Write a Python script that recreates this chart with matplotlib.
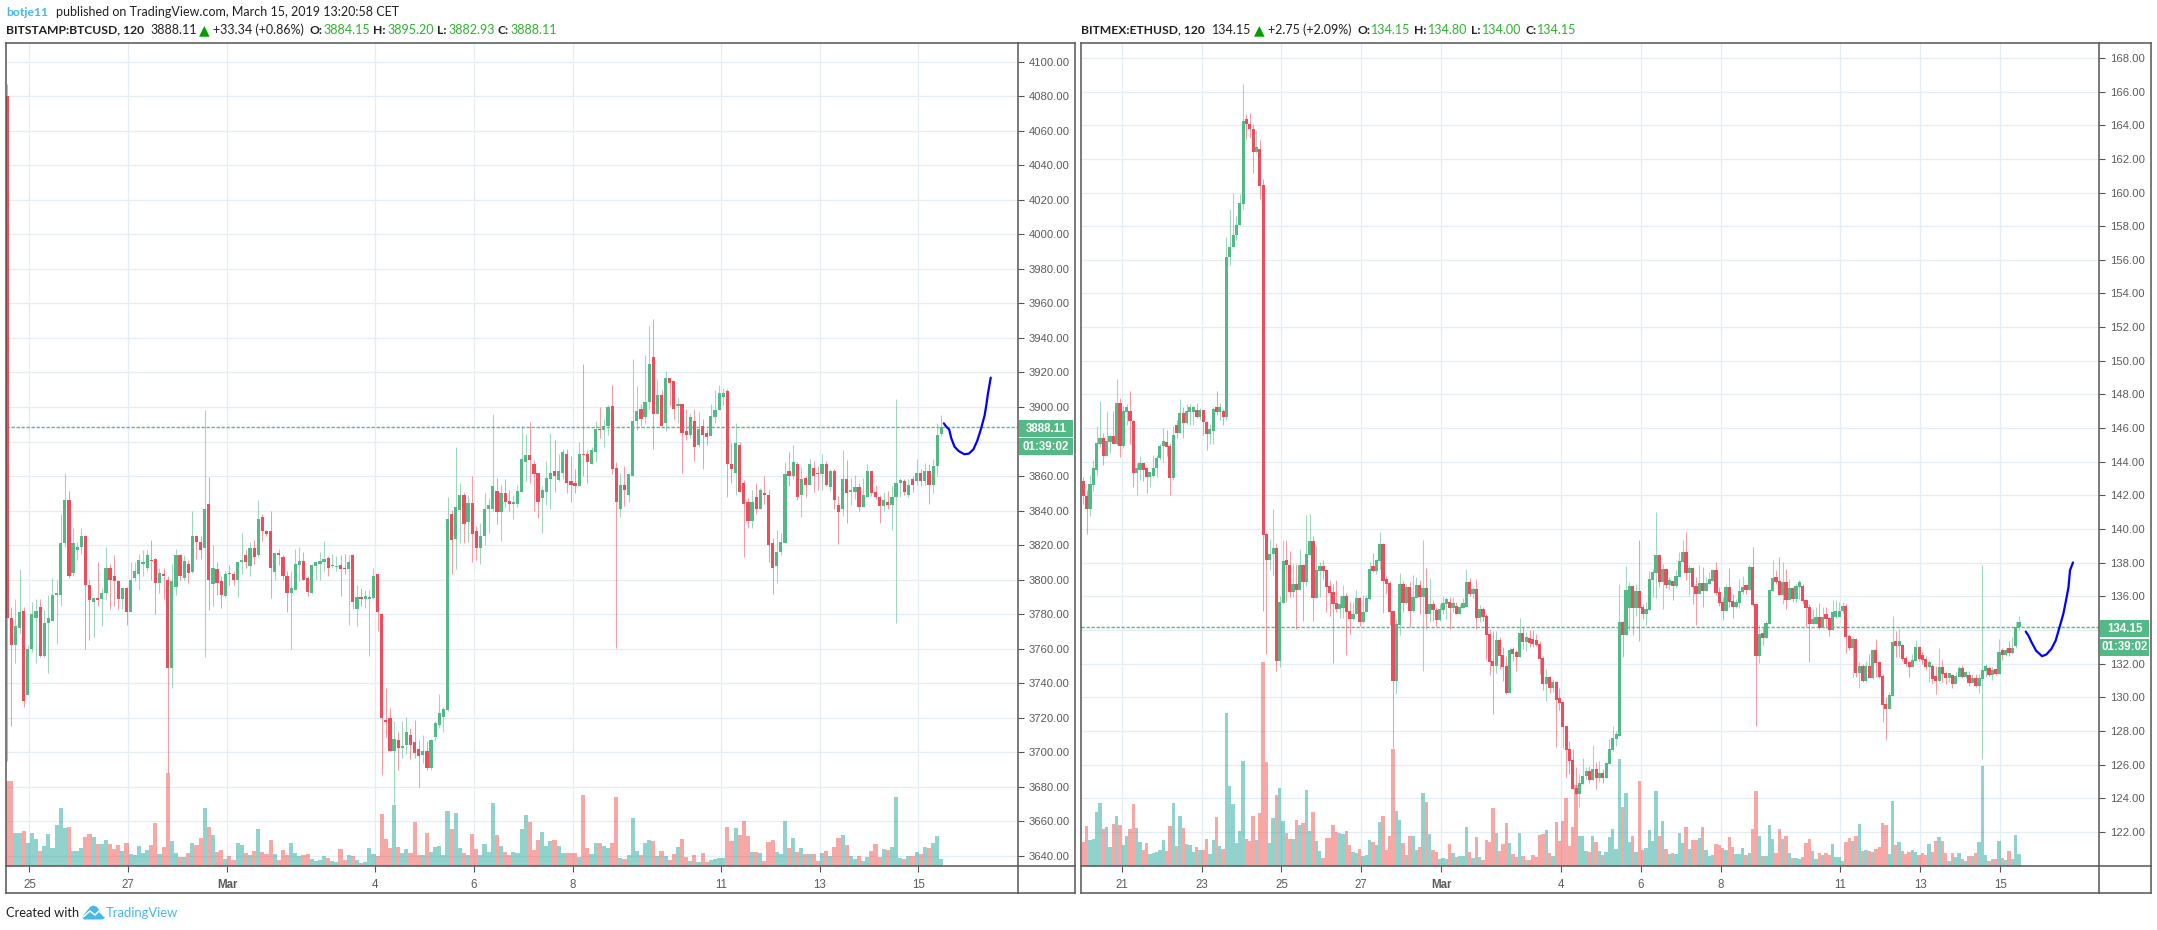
import matplotlib
matplotlib.use('Agg')
import matplotlib.pyplot as plt
from matplotlib.lines import Line2D
from matplotlib.patches import Rectangle, Polygon

W, H = 2157, 930

# ---- BTC data, 2h candles, dir: g = up, r = down
btc_dir = ("rrggrgggrg" "gggggrgggr" "rgrggrrrgr" "gggggrrgrr" "ggrgrgrrgr" "grrgrrggrg"
           "rgrrrgrrrg" "ggrrggggrg" "grrgrgrggg" "rrrrgrggrr" "rgrgggggrg" "grgrrggggr"
           "grrggggrrr" "gggrggrrrg" "rrggrggrrg" "rgggrggrgr" "grrgrrgrgr" "rggggrrgrr"
           "rgrgrrrggg" "rgrgrgrrgr" "grrgrggrgg" "rrrgrgggrg" "rgrgrggg")
btc_top = [4080,3778,3773,3781,3782,3760,3780,3782,3784,3775,
    3778,3791,3792,3821,3846,3846,3821,3819,3825,3825,
    3797,3789.5,3789.5,3792,3807,3807,3802,3799,3795,3795,
    3800,3805,3811.5,3810,3814,3811.5,3812,3804,3803,3800,
    3799,3814,3814,3811,3809,3825,3825,3822,3841,3844,
    3807,3806,3799,3803,3804,3803,3810,3811.5,3814,3818.5,
    3818.5,3835,3836,3828,3828,3815.5,3815.5,3813,3802,3795,
    3809,3811,3811,3801,3808.6,3810,3811,3812,3812.6,3808.6,
    3808,3808.6,3807,3810,3814,3790,3790,3790.6,3790,3802,
    3803,3780,3719,3720,3708,3707,3703.6,3712,3710,3706,
    3702,3700.7,3700.7,3707,3717,3723,3725,3835,3838,3842,
    3849,3849,3844.5,3844.5,3828,3825,3841,3843,3854,3851.5,
    3850,3850,3845.7,3845,3851.5,3870,3872,3872,3867,3862,
    3852,3858.6,3861.5,3862.7,3862.7,3874,3872.6,3857,3856,3873,
    3872.6,3872.6,3875,3887,3887,3889,3900,3900.4,3864.4,3855,
    3855,3861,3892,3897.5,3898.7,3903,3925,3929,3907,3907,
    3916.6,3916.6,3915,3901.5,3901.5,3886,3894,3891.7,3887,3888.8,
    3884.7,3894.6,3898,3908,3908,3909,3867,3879,3878,3856,
    3845,3845,3847.6,3852,3850,3849,3821,3816,3822,3861,
    3862.7,3868,3867,3858,3858.6,3866.8,3864.4,3861.5,3867,3867,
    3862.7,3862.7,3843,3858,3858,3851.7,3853.4,3853.4,3849,3862.7,
    3862.7,3851,3848,3846,3844.7,3848,3856,3857.5,3857,3855,
    3858,3862,3862,3863,3863,3865.6,3884,3888.11]
btc_bot = [3778,3762,3762,3772,3730,3733,3760,3778,3756,3756,
    3775,3776,3791,3791,3821,3802,3804,3817,3819,3797,
    3788,3787,3788,3789,3792,3800,3799,3789,3789,3781,
    3781,3801,3803,3809,3807,3811,3798,3798,3802,3749,
    3749,3796,3802,3801,3804,3804.5,3822,3817,3818.5,3800,
    3797.6,3798,3791,3790.6,3803,3800,3800,3810,3810,3808,
    3813,3814,3828,3826.6,3807,3804.5,3814,3802,3792,3792,
    3794,3808.6,3800,3793,3792,3808,3809,3810,3807,3808,
    3807.4,3806,3806,3806,3787,3783,3789,3789,3789,3789.5,
    3781,3720,3717.6,3701,3701,3702.5,3702.5,3704,3704,3699.6,
    3698,3698.4,3691,3691,3709,3716,3720.5,3724.5,3823,3823.7,
    3840.5,3832,3833.5,3826.6,3818.4,3818.4,3825,3841,3841,3839,
    3839,3845,3844,3844,3844,3851,3868,3869,3861,3845,
    3847,3851,3858,3860,3857.5,3862,3856,3854.6,3854,3854,
    3872,3868,3867,3874,3886.5,3886.5,3889,3864,3845,3841,
    3851.7,3849,3860,3892,3893,3894,3903,3896,3896,3889,
    3890.5,3913.7,3899,3900.4,3885,3884,3884,3876.6,3878,3884,
    3882.4,3883,3894,3898,3906,3867,3864,3862,3851,3843.6,
    3834,3834,3841,3841,3849,3820,3807,3808,3816,3821.5,
    3860,3860,3848,3849,3854.6,3855,3860,3861,3861,3854.6,
    3853.4,3846,3839,3840.7,3850,3850.5,3850.5,3842,3842,3848,
    3850,3847.6,3842.4,3842.4,3843,3843,3848,3855.7,3851,3849,
    3854.6,3857,3857,3857,3855,3855,3865.6,3884.15]
btc_high = [4087,3784,3789,3806,3784,3762,3787,3789,3789,3782.5,
    3791,3801,3800,3838,3862,3851.5,3830,3822,3830,3826,
    3800,3790,3810,3795,3819,3809,3814,3800,3795,3796,
    3810,3810,3815,3817,3817,3823,3812.5,3807,3807,3802,
    3809,3818,3815,3814,3811.5,3839.5,3826,3825,3898,3859.5,
    3820,3810,3802,3805,3808.6,3805,3810.5,3827,3817,3822,
    3823,3846,3838,3829,3840,3815.5,3818,3814,3805,3805,
    3818,3819,3816,3802,3809,3810.5,3816,3822.5,3813.5,3815,
    3813.5,3814,3815,3814,3815,3797,3795,3794,3794,3807,
    3803,3780.5,3737,3725.5,3718,3712,3718,3720.5,3714,3719,
    3707,3710,3706.5,3708,3718,3734,3726.5,3848,3840.5,3877,
    3856,3850,3849,3860,3831,3833,3850,3847,3896,3859,
    3855,3858.5,3852,3849,3855,3889,3884.5,3891.5,3869.5,3862,
    3854,3868.5,3885,3881,3873,3875.5,3875.5,3871.6,3864,3880,
    3925,3875,3877,3892,3900,3893,3901,3912.6,3868,3862,
    3866,3861.5,3927.6,3912,3901.5,3930,3947,3951,3915.7,3910,
    3921,3917,3915,3905.4,3901.5,3898.6,3896.7,3898.6,3897,3893,
    3887,3901.5,3910,3913,3911,3910.6,3879,3890.5,3880,3857.5,
    3847,3852,3856,3853,3860,3852,3824,3828.5,3827,3868,
    3874,3878,3868,3865,3860,3870,3868.7,3866,3872.6,3868.7,
    3864,3864,3848.4,3875,3869,3858.6,3860.4,3855.7,3858.6,3867,
    3862.7,3854.6,3848.8,3851,3851.5,3854,3904.5,3859,3858,3858,
    3860,3870,3864,3867.7,3867,3869.7,3890.5,3895.2]
btc_low = [3695,3715,3752,3769,3726,3733,3758,3752,3755,3755,
    3746,3776,3763,3785,3819,3801,3802,3811.5,3815,3760,
    3765,3767,3785,3773,3788,3783,3785,3783,3783,3774,
    3781,3799,3794,3802,3805,3800,3780,3792,3789,3688,
    3737.5,3791,3800,3800,3798,3804,3812,3812,3755,3782.5,
    3785,3791,3783.5,3790,3797,3797,3790,3803,3807,3802,
    3809,3813,3822.5,3825.5,3789.5,3800,3808.6,3800,3781,3760,
    3794,3799,3800,3790.6,3792,3800,3800,3805,3802,3807,
    3805,3790.6,3803,3774,3783,3773,3785,3783.5,3756,3789,
    3770,3687,3709,3701,3670,3690,3696.5,3699,3696,3696.5,
    3680,3694,3690,3690,3706.5,3714,3712,3724,3803,3806,
    3821,3821,3822,3810.5,3811.5,3809,3820,3827,3840,3832,
    3822.5,3842,3840,3835,3842,3851,3857,3856,3839.5,3835.6,
    3827,3843,3841,3851,3857,3858,3850,3845,3850,3854,
    3860,3856,3867,3868,3882,3876.6,3884,3861,3760.7,3836,
    3842.6,3845,3860,3886.5,3889,3891,3898.7,3875.5,3896,3889,
    3886,3900.6,3893,3891,3862,3881,3882,3868.5,3877,3864,
    3878,3883,3891,3898,3901,3847.6,3856,3849,3851,3813,
    3830,3830,3838,3841,3844,3810.5,3791.4,3798,3814,3821.5,
    3854,3858,3846,3836,3847.6,3854.6,3850.5,3852,3852,3854,
    3851.5,3841,3820.4,3837,3832.6,3843,3846.5,3840,3842,3847.6,
    3848.4,3846.5,3833,3840,3840.7,3829,3775,3847.6,3848.8,3847.6,
    3850.7,3855,3854,3854.6,3843.6,3850,3860,3882.93]
btc_vol = [255,255,99,99,105,69,99,81,45,60,
    96,54,123,174,114,117,45,45,54,87,
    96,87,66,66,78,66,51,63,45,69,
    36,33,60,39,48,63,129,36,57,279,
    75,39,27,27,39,69,63,84,174,117,
    93,42,48,21,30,18,69,63,39,33,
    45,111,42,36,78,36,18,48,33,69,
    39,30,33,36,21,15,18,30,24,15,
    12,51,18,33,30,18,9,12,54,36,
    30,156,81,54,183,57,39,51,39,132,
    33,33,99,42,57,60,33,165,111,159,
    54,39,33,96,51,33,66,42,189,93,
    60,42,33,42,39,111,153,132,48,78,
    102,60,75,78,60,39,39,39,39,27,
    213,54,36,69,69,60,54,69,207,24,
    21,33,144,45,33,69,78,75,30,45,
    30,18,36,57,81,27,15,33,12,39,
    12,18,21,24,24,117,75,114,93,135,
    90,42,42,39,15,72,78,42,36,135,
    54,84,42,54,36,36,36,15,39,45,
    30,57,84,93,63,30,21,30,15,27,
    45,66,27,51,48,57,207,24,21,30,
    30,42,36,57,54,69,90,21]
btc_ticks = [5.4,29.4,53.4,89.4,113.4,137.4,173.4,197.4,221.4]
btc_ticklabels = ['25','27','Mar','4','6','8','11','13','15']
btc_yticks = list(range(3640,4101,20))
btc_draw_x = [227.6,228.2,228.9,229.4,230.2,231.2,232.6,233.7,234.8,235.7,236.6,237.5,237.9,238.3,239]
btc_draw_y = [3890.5,3888.6,3887,3882,3877,3874.5,3872.6,3873,3875.5,3880.3,3887,3895,3900.6,3907.4,3917]

# ---- ETH data
eth_dir = ("rrggggrggr" "grggrrggrr" "gggggrrgrg" "rgggrgrrgg" "rgrggggggr" "rrgrrrggrg"
           "grrgrgrggr" "ggrrrrrggr" "rggrgggrgg" "rrrrggrgrg" "grgrgrrggg" "rgrgggrgrg"
           "rrrrgrrrgr" "rgrgrrrrrg" "rgrrrrrrrg" "ggrgrgrggg" "ggrggrgrrg" "gggrgrgrgg"
           "grgrrgrggg" "rrrgrrgggr" "grrgrgggrr" "grgrggrrrg" "grgrrggggr" "rgrgrgrgrr"
           "rrggrgrrrg" "grrrgrrgrr" "grggrgrgrg" "ggrgrgrgrg" "gg")
eth_top = [142.87,141.98,142.7,143.6,145.13,145.43,145.43,145.25,145.5,145.5,
    147.5,147.5,147,147,147,146.4,143.5,143.9,143.9,143.6,
    143.2,143.6,144.2,144.95,145.13,145.13,144.95,145.6,146.2,146.9,
    146.9,147,147,147.05,147.05,147.05,147.05,146.35,145.8,147.14,
    147.14,147,147,156.18,156.78,157.49,158.08,159.35,164.23,164.21,
    164.09,163.79,162.56,162.56,160.42,139.72,138.53,138.88,138.88,135.67,
    138.11,138.11,137.87,136.74,136.74,137.87,137.87,138.53,139.3,139.3,
    137.58,137.63,137.63,137.58,136.62,136.27,135.61,135.37,136.03,136.03,
    135.13,134.96,135.91,135.91,135.08,135.91,137.63,137.63,138.17,139.12,
    139.12,136.98,136.8,135.13,134.36,136.74,136.74,136.56,136.56,135.95,
    136.68,136.68,136.5,136.5,135.55,135.55,135.19,135.25,135.61,135.67,
    135.67,135.43,135.43,135.37,135.43,136.86,136.86,136.44,136.44,135.25,
    135.25,134.84,133.77,132.16,133.41,133.41,132.52,131.86,132.81,132.81,
    132.58,133.83,133.83,133.47,133.47,133.29,133.23,133.17,132.34,131.21,
    131.21,130.91,130.91,129.9,129.72,128.29,126.92,126.27,124.6,124.9,
    125.31,125.61,125.61,125.73,125.73,125.31,125.31,126.09,126.92,127.58,
    127.75,134.48,134.48,136.38,136.62,136.62,136.33,136.33,135.37,135.25,
    137.04,137.46,138.47,138.47,137.63,137.63,136.74,136.74,137.22,138.11,
    138.65,138.65,137.7,137.7,136.62,136.8,136.8,136.8,136.98,137.58,
    137.58,136.27,135.67,136.56,136.56,135.73,135.67,136.33,136.5,136.5,
    137.75,137.75,135.55,133.77,133.77,134.42,136.38,137.1,137.1,136.92,
    136.86,136.86,136.5,136.5,136.62,136.62,136.62,135.79,135.37,134.42,
    134.78,134.78,134.78,134.78,134.72,135.08,135.13,135.13,135.43,135.43,
    133.65,133.47,133.47,131.86,131.86,131.86,131.86,132.81,132.81,132.1,
    131.27,129.6,130.13,133.29,133.29,133.11,133.11,132.34,132.04,132.22,
    132.99,132.99,132.34,132.28,131.86,131.86,131.15,131.8,131.8,131.44,
    131.33,131.33,131.27,131.74,131.74,131.33,131.33,131.15,131.15,131.15,
    131.62,131.74,131.74,131.5,131.5,132.69,132.69,132.81,132.81,132.93,
    134.15,134.15]
eth_bot = [141.94,141.2,141.2,142.6,143.5,145.07,144.36,144.36,145.2,145.07,
    145.07,144.95,144.95,146.95,146.4,143.3,143.3,143.5,143.5,143.1,
    143.1,143.17,143.6,144.2,144.95,144.9,143.05,143.05,145.7,145.7,
    146.3,146.3,146.97,146.98,146.65,146.65,146.35,145.62,145.62,145.8,
    146.95,146.95,146.65,146.65,156.18,156.78,157.49,158.04,159.31,164.09,
    163.79,162.4,162.4,160.38,139.66,138.13,138.13,138.49,132.16,132.16,
    135.61,137.83,136.27,136.27,136.38,136.38,136.86,136.86,138.47,135.91,
    135.91,137.52,137.52,136.56,136.2,135.55,135.25,135.25,135.31,135.08,
    134.66,134.66,134.96,134.48,134.48,135.08,135.85,137.52,137.52,138.11,
    136.92,136.74,135.08,130.97,130.97,134.3,135.61,135.61,135.13,135.13,
    135.91,135.97,135.97,134.96,134.96,135.19,134.6,134.6,135.19,135.55,
    135.31,135.31,134.96,134.96,135.31,135.37,136.15,136.15,134.72,134.72,
    134.78,133.71,132.1,131.86,131.86,132.46,131.8,130.25,130.25,132.58,
    132.4,132.4,133.29,133.29,133.23,133.17,133.11,132.28,130.79,130.79,
    130.55,130.55,129.84,129.66,128.23,126.86,126.21,124.54,124.24,124.24,
    124.84,125.31,125.07,125.07,125.19,125.19,125.19,125.19,126.03,126.86,
    127.52,127.69,133.71,133.71,135.31,135.31,135.31,135.31,134.96,134.96,
    135.19,136.98,137.4,136.86,136.86,136.7,136.68,136.62,136.62,137.16,
    138.05,137.4,137.4,136.56,136.15,136.15,136.33,136.33,136.74,136.92,
    136.21,135.61,135.13,135.13,135.67,135.37,135.37,135.61,136.27,136.38,
    136.38,135.49,132.46,132.46,133.53,133.53,134.36,136.33,136.86,136.09,
    136.09,135.79,135.79,135.85,135.85,136.56,135.73,135.31,134.36,134.36,
    134.36,134.12,134.12,134.66,134,134,134.78,134.78,135.13,133.59,
    132.93,132.93,131.44,131.44,130.97,130.97,131.15,131.15,132.04,131.21,
    129.54,129.3,129.3,130.07,133.05,133.05,132.28,131.98,131.8,131.8,
    132.16,132.28,132.22,131.8,131.8,131.09,130.97,130.97,131.38,131.15,
    131.15,130.79,130.79,131.21,131.21,131.21,130.85,130.85,130.67,130.67,
    131.09,131.56,131.33,131.33,131.38,131.38,132.52,132.52,132.63,132.63,
    133.05,134.15]
eth_high = [143.09,142.3,143.2,144.1,146.14,147.6,145.7,147,145.6,147,
    148.9,147.8,147.3,147.4,148.2,146.5,143.9,144.36,143.9,143.7,
    143.3,144.4,144.4,145.07,146,145.9,145.1,146.14,146.5,147.7,
    147.25,147.45,147.45,147.3,147.46,147.2,147.1,146.4,146.27,147.26,
    148.2,147.5,147.14,157.35,159,159.99,158.6,159.9,166.43,164.64,
    164.7,164.05,163.7,163.1,160.78,139.8,139.42,141.2,139.18,136.03,
    139.32,139.32,138.69,137.9,137.93,138.83,137.93,140.81,140.87,139.6,
    139,138.03,138.17,137.58,136.94,136.74,136.94,136.03,136.68,136.19,
    135.65,135.65,136.38,135.95,136.05,136.05,138.03,138.57,138.23,139.82,
    139.16,137.22,136.9,135.15,134.66,137.4,136.9,136.74,136.84,137.28,
    137.14,136.94,139.36,137.69,137.1,135.75,135.35,135.55,135.99,135.95,
    135.95,135.95,135.65,135.55,135.9,137.63,137.1,136.54,137.04,135.51,
    135.35,134.96,134.06,133.96,133.96,133.57,133,132.48,133,133,
    132.81,134.72,134.16,133.87,134.02,134.02,133.77,133.37,132.48,131.68,
    131.29,131.09,130.99,130.55,129.72,128.29,127.42,126.92,125.85,125.43,
    126.38,125.83,125.93,127.16,126.13,126.23,125.73,126.13,127.52,128.31,
    128,136.74,134.56,137.81,136.86,136.7,136.74,139.36,135.55,135.65,
    137.5,137.63,141.03,138.53,137.93,137.7,137.14,136.84,137.58,138.65,
    139.36,139.84,137.83,137.73,137.14,137.83,137.73,137.14,137.44,137.63,
    138.03,136.54,135.95,136.74,137.7,136.15,135.85,137.04,137.18,136.74,
    137.83,138.94,135.55,134.32,134.16,134.56,136.44,138.17,137.54,138.33,
    138.03,137.63,137.04,136.54,136.74,136.94,136.74,135.85,135.55,135.25,
    135.35,135.59,135.35,135.35,134.76,135.79,135.79,135.65,135.65,135.55,
    133.77,133.57,133.53,132.08,131.98,132.18,132.54,132.87,133.47,132.18,
    131.38,130,130.29,134.84,133.96,134.06,133.17,132.48,132.18,132.58,
    133.41,133.07,132.67,132.48,132.22,131.98,131.88,132.93,132.22,131.58,
    131.4,131.38,131.48,131.88,131.92,131.58,131.58,131.38,131.38,131.38,
    137.87,131.98,131.88,131.78,131.68,133.47,132.93,132.93,133.37,133.57,
    134.48,134.8]
eth_low = [141.46,139.7,140.75,142.25,143.17,144.9,143.8,144.36,144.5,145.07,
    145,144.3,144.8,146.2,145.07,142.5,142,142.9,142.87,142.16,
    142.5,143.1,143.1,144.1,144,144.36,142,142.9,145.4,145.7,
    145.4,146.26,146.2,146.2,146.6,146.5,145.6,144.7,145.08,145.08,
    146.8,146.5,146.2,146.5,155.67,156.78,157.17,158.04,159,163.16,
    163.33,161.14,162.36,159.59,135.15,132.58,137.58,137.24,131.58,131.82,
    135.61,135.65,135.95,135.95,134.06,136.38,134.56,136.64,138.43,134.56,
    135.91,135.95,137.04,135.06,134.84,132.02,135.06,134.72,134.72,132.52,
    133.77,134.62,134.92,134.24,134.44,135.06,135.85,137.44,137.34,137.54,
    135.02,136.15,134.3,126.98,130.19,133.71,135.08,135.55,134.16,135.06,
    135.91,134.96,131.56,134.06,134.46,134.56,134.24,134.56,134.96,134.66,
    134.06,135.06,134.92,134.92,135.3,135.35,135.99,135.91,134.06,134.48,
    134.56,132.28,131.33,129,131.44,131.68,130.99,130.19,130.25,132.18,
    131.58,132.38,132.87,132.77,132.97,133.01,133.07,131.38,130.43,129.78,
    130.25,130.29,127.02,129.24,126.98,125.25,125.43,124.54,124.24,123.45,
    124.84,125.13,124.9,125.07,124.54,124.94,124.88,125.19,126.03,126.82,
    127.12,127.69,132.4,133.71,134,133.71,134.84,133.35,134.66,134.28,
    135.19,135.95,135.91,136.58,135.25,136.5,136.44,135.79,136.54,137.16,
    138.01,136.94,136.09,135.55,134.3,136.15,135.37,136.33,136.74,136.92,
    136.05,135.45,134.6,135.13,135.37,134.72,135.33,135.33,136.15,136.15,
    136.38,135.45,128.29,132.04,133.11,133.53,134.36,136.33,136.74,136.09,
    135.55,135.25,135.79,135.65,135.61,135.85,135.55,134.16,132.1,134.36,
    134.36,134.06,134.12,134.12,133.65,134,134.72,135,135,132.65,
    132.81,131.19,131.19,130.55,130.89,130.89,131.15,131.09,131.19,131.15,
    128.53,127.52,129.3,130.07,132.42,132.38,132.18,131.88,131.23,131.8,
    132.16,132.18,131.98,131.64,130.89,130.79,130.19,130.97,130.89,130.79,
    130.9,130.55,130.79,131.21,131.15,131.15,130.69,130.85,130.63,130.25,
    126.33,131.19,131.27,131.03,131.35,131.38,132.24,132.46,132.48,132.58,
    132.9,134]
eth_vol = [72,120,78,81,162,189,111,117,57,126,
    150,123,63,90,111,186,114,72,48,69,
    36,39,42,48,78,45,120,189,60,150,
    114,66,63,42,57,48,48,81,36,78,
    147,60,51,459,240,186,69,105,315,81,
    75,150,78,159,612,312,69,144,213,234,
    135,99,81,81,138,123,129,228,105,162,
    75,45,24,84,84,123,102,99,96,105,
    63,42,39,51,30,33,78,72,63,132,
    150,48,90,351,165,138,69,33,90,90,
    48,57,219,192,96,48,42,21,24,21,
    66,39,27,30,30,117,42,24,87,27,
    18,78,72,174,99,45,66,129,69,36,
    27,99,30,18,18,33,27,93,96,108,
    39,30,132,75,135,204,60,117,243,90,
    90,45,42,90,72,45,33,42,87,111,
    51,323,177,221,72,90,42,255,48,54,
    108,75,225,90,135,51,36,39,36,99,
    69,117,51,78,78,84,117,48,30,33,
    66,63,54,48,87,57,36,36,54,33,
    39,111,225,90,30,30,123,81,39,111,
    81,90,39,24,24,21,27,69,81,45,
    21,39,33,39,33,66,27,27,15,72,
    84,75,90,126,45,48,45,42,51,57,
    129,123,36,195,63,72,45,36,42,48,
    42,33,39,33,66,42,75,87,75,39,
    15,39,27,39,21,15,30,30,39,72,
    300,33,15,21,21,75,24,18,45,21,
    93,36]
eth_ticks = [11.5,35.5,59.5,83.4,107.5,143.5,167.5,191.5,227.3,251.3,275.4]
eth_ticklabels = ['21','23','25','27','Mar','4','6','8','11','13','15']
eth_yticks = list(range(122,169,2))
eth_draw_x = [283,283.8,284.75,286.1,287.9,289.2,290.7,292,293.3,294.3,295.1,295.85,296.3,297.2]
eth_draw_y = [133.9,133.67,133.27,132.77,132.44,132.54,132.87,133.37,134.26,134.96,135.75,136.54,137.54,138.01]

GREEN, RED = '#53b987', '#eb4d5c'
GRID = '#e4edf3'
AXC = '#555555'
TXT = '#5a5a5a'

plt.rcParams['font.family'] = ['Liberation Sans', 'DejaVu Sans']
fig = plt.figure(figsize=(W/100, H/100), dpi=100)

def fx(x): return x/W
def fy(y): return 1-y/H

def hline(x0, x1, y):
    fig.add_artist(Line2D([fx(x0), fx(x1)], [fy(y), fy(y)], color=AXC, lw=1.1))
def vline(x, y0, y1):
    fig.add_artist(Line2D([fx(x), fx(x)], [fy(y0), fy(y1)], color=AXC, lw=1.1))

def panel(x0, x1, xout, xlim, ylim, dirs, top, bot, high, low, vol, ticks, ticklabels, yticks,
          draw_x, draw_y, last, last_lbl, last_box_y, hidden):
    y0, y1 = 43.3, 866.3
    rect = [fx(x0), fy(y1), fx(x1)-fx(x0), fy(y0)-fy(y1)]
    ax = fig.add_axes(rect)
    vax = ax.twinx()
    cax = ax.twinx()
    n = len(top)
    xs = list(range(n))
    cols = [GREEN if d == 'g' else RED for d in dirs]
    px_per_bar = (x1-x0)/(xlim[1]-xlim[0])

    ax.set_xlim(*xlim)
    ax.set_ylim(*ylim)
    ax.yaxis.tick_right()
    ax.set_yticks(yticks)
    # the last price tags sit on top of these labels in the original
    ax.set_yticklabels(['' if v == hidden else '%.2f' % v for v in yticks], fontsize=8.1, color=TXT)
    ax.set_xticks(ticks)
    ax.set_xticklabels(ticklabels, fontsize=8.3, color=TXT)
    for lab in ax.get_xticklabels():
        if lab.get_text() == 'Mar':
            lab.set_fontweight('bold')
    ax.tick_params(axis='y', length=4, width=0.8, color=AXC, pad=3.5)
    ax.tick_params(axis='x', length=4, width=0.8, color=AXC, pad=5.5)
    ax.grid(True, color=GRID, lw=0.95)
    ax.set_axisbelow(True)
    for s in ax.spines.values():
        s.set_visible(False)

    # volume, arbitrary units on a hidden scale
    vcol = ['#26a69a' if d == 'g' else '#ef5350' for d in dirs]
    vax.bar(xs, vol, width=1.0, color=vcol, alpha=0.5, linewidth=0)
    vax.set_ylim(0, (y1-y0)*3)
    vax.set_yticks([])
    vax.patch.set_visible(False)

    cax.set_ylim(*ylim)
    cax.set_yticks([])
    cax.patch.set_visible(False)
    cax.axhline(last, color=GREEN, lw=1.0, ls=(0, (2.4, 1.2)), zorder=1)
    cax.vlines(xs, low, high, colors=cols, lw=0.75, alpha=0.55, zorder=2)
    hts = [max(t-b, 0.3) for t, b in zip(top, bot)]
    cax.bar(xs, hts, bottom=bot, width=3.2/px_per_bar, color=cols, linewidth=0, zorder=3)
    cax.plot(draw_x, draw_y, color='#0000ff', lw=1.6, zorder=4, solid_capstyle='round')
    for a in (vax, cax):
        for s in a.spines.values():
            s.set_visible(False)

    # frame
    hline(x0, xout, y0)
    hline(x0, xout, y1)
    hline(x0, xout, 893.2)
    vline(x0, y0, 893.2)
    vline(x1, y0, 893.2)
    vline(xout, y0, 893.2)

    # last price tag and countdown
    bx, by = x1+0.5, last_box_y
    fig.add_artist(Rectangle((fx(bx), fy(by+17)), (xout-x1-2)/W, 17/H, color=GREEN, lw=0))
    fig.add_artist(Rectangle((fx(bx), fy(by+35.5)), (xout-x1-2)/W, 17/H, color=GREEN, lw=0))
    fig.text(fx(bx+(xout-x1-2)/2), fy(by+8.5), last_lbl, color='white', fontsize=8.3, fontweight='bold', ha='center', va='center')
    fig.text(fx(bx+(xout-x1-2)/2), fy(by+27), '01:39:02', color='white', fontsize=8.3, fontweight='bold', ha='center', va='center')
    return ax

panel(6.2, 1018.3, 1074.8, (-0.24, 245.7), (3634, 4110.6), btc_dir, btc_top, btc_bot, btc_high, btc_low, btc_vol,
      btc_ticks, btc_ticklabels, btc_yticks, btc_draw_x, btc_draw_y, 3888.11, '3888.11', 420, 3880)
panel(1081.2, 2099.3, 2150.8, (-0.63, 305.1), (119.95, 168.87), eth_dir, eth_top, eth_bot, eth_high, eth_low, eth_vol,
      eth_ticks, eth_ticklabels, eth_yticks, eth_draw_x, eth_draw_y, 134.15, '134.15', 620, 134)

# header texts
HF = ['Lato', 'DejaVu Sans']
BLUE = '#46b8e8'
DARK = '#202020'
NUM = '#2fb02f'
def head(x, y, s, col=DARK, bold=False, size=9.0):
    if bold:
        size = size-0.3
    fig.text(fx(x), fy(y), s, color=col, fontsize=size, family=HF, fontweight='bold' if bold else 'normal', va='center')

head(6, 12.5, 'botje11', BLUE, True)
head(55.5, 12.5, 'published on TradingView.com, March 15, 2019 13:20:58 CET')

btc_head = [(6, 'BITSTAMP:BTCUSD, 120', DARK, True), (150, '3888.11', DARK, False), (213, '+33.34 (+0.86%)', DARK, False),
            (309, 'O:', DARK, True), (323, '3884.15', NUM, False), (373, 'H:', DARK, True), (387, '3895.20', NUM, False),
            (437, 'L:', DARK, True), (448, '3882.93', NUM, False), (498, 'C:', DARK, True), (510, '3888.11', NUM, False)]
eth_head = [(1081, 'BITMEX:ETHUSD, 120', DARK, True), (1212.4, '134.15', DARK, False), (1267.8, '+2.75 (+2.09%)', DARK, False),
            (1357.4, 'O:', DARK, True), (1371, '134.15', NUM, False), (1414, 'H:', DARK, True), (1428, '134.80', NUM, False),
            (1471, 'L:', DARK, True), (1482, '134.00', NUM, False), (1525, 'C:', DARK, True), (1537, '134.15', NUM, False)]
for x, s, c, b in btc_head + eth_head:
    head(x, 30, s, c, b)
for x in (204.5, 1259.6):
    fig.text(fx(x), fy(30), '▲', color='#00a000', fontsize=10, family=['DejaVu Sans'], ha='center', va='center')

# footer
head(6, 913, 'Created with', DARK, False, 9.3)
head(106, 913, 'TradingView', BLUE, False, 9.4)
logo = [(82, 917), (90, 907), (93, 905.5), (97, 907), (100, 911), (105, 917), (103, 919.5), (84, 919.5)]
fig.add_artist(Polygon([(fx(a), fy(b)) for a, b in logo], closed=True, color=BLUE, lw=0))
fig.add_artist(Line2D([fx(83), fx(90), fx(95), fx(99), fx(104)], [fy(917), fy(911), fy(915), fy(911), fy(916)], color='white', lw=1.1))

fig.savefig('out.png', dpi=100)
